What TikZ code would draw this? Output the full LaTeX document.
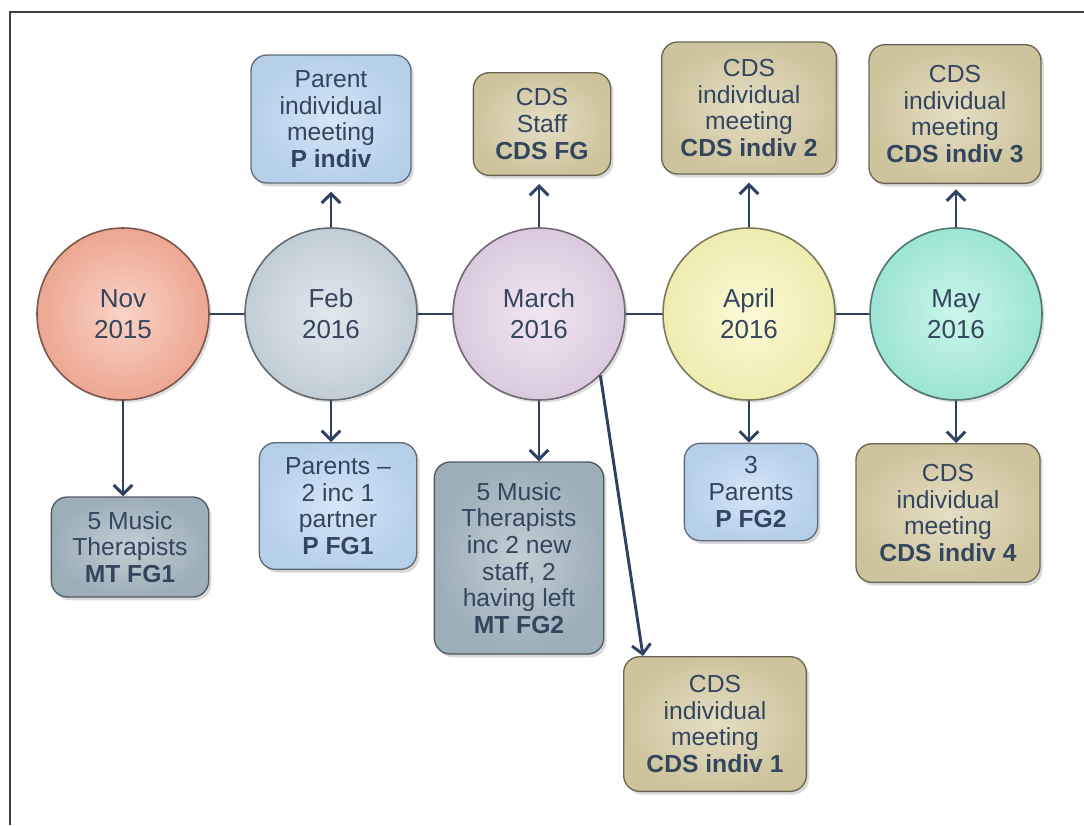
\documentclass[tikz,border=0pt]{standalone}
\usepackage{fontspec}
\setmainfont{Liberation Sans}
\usetikzlibrary{arrows.meta,shadows}

\definecolor{linecol}{HTML}{2E4162}
\definecolor{txtcol}{HTML}{34465E}
\definecolor{novcol}{HTML}{F6AE98}
\definecolor{febcol}{HTML}{C9D6DF}
\definecolor{marcol}{HTML}{E4D2E8}
\definecolor{aprcol}{HTML}{F8F6B6}
\definecolor{maycol}{HTML}{A2EEDC}
\definecolor{parcol}{HTML}{BED8F3}
\definecolor{mtcol}{HTML}{A2B5C0}
\definecolor{cdscol}{HTML}{D6CCA4}

\begin{document}
\begin{tikzpicture}[x=0.75pt,y=-0.75pt,
    month/.style={circle,draw=#1!50!black,line width=1.2pt,inner color=#1!55!white,outer color=#1!96!black,
        minimum size=129pt,inner sep=1pt,align=center,text=txtcol,font=\fontsize{19.5}{23}\selectfont,
        drop shadow={opacity=0.25,shadow xshift=2pt,shadow yshift=-2pt}},
    group/.style={rectangle,rounded corners=12pt,draw=#1!50!black,line width=1pt,inner color=#1!65!white,outer color=#1!96!black,
        inner sep=2pt,align=center,text=txtcol,font=\fontsize{18.5}{20}\selectfont,
        drop shadow={opacity=0.3,shadow xshift=2pt,shadow yshift=-2.5pt}},
    link/.style={draw=linecol,line width=2.2pt},
    meet/.style={link,-{Straight Barb[length=7pt,width=14pt,line width=2.2pt]}}]
    \useasboundingbox (0,0) rectangle (1084,825);
    % frame
    \coordinate (fr1) at (10,825);
    \coordinate (fr2) at (10,12);
    \coordinate (fr3) at (1084,12);
    \draw[black!75,line width=1.6pt] (fr1) -- (fr2) -- (fr3);

    % timeline
    \node[month=novcol] (nov) at (123,314) {Nov\\2015};
    \node[month=febcol] (feb) at (331,314) {Feb\\2016};
    \node[month=marcol] (mar) at (539,314) {March\\2016};
    \node[month=aprcol] (apr) at (749,314) {April\\2016};
    \node[month=maycol] (may) at (956,314) {May\\2016};
    \draw[link] (nov) -- (feb) (feb) -- (mar) (mar) -- (apr) (apr) -- (may);

    % groups above
    \node[group=parcol,minimum width=120pt,minimum height=96pt] (pindiv) at (331,119) {Parent\\individual\\meeting\\\textbf{P indiv}};
    \node[group=cdscol,minimum width=103pt,minimum height=77pt] (cdsfg) at (542,124) {CDS\\Staff\\\textbf{CDS FG}};
    \node[group=cdscol,minimum width=131pt,minimum height=99pt] (cdsi2) at (749,108) {CDS\\individual\\meeting\\\textbf{CDS indiv 2}};
    \node[group=cdscol,minimum width=129pt,minimum height=104pt] (cdsi3) at (955,114) {CDS\\individual\\meeting\\\textbf{CDS indiv 3}};

    % groups below
    \node[group=mtcol,minimum width=118pt,minimum height=75pt] (mtfg1) at (130,547) {5 Music\\Therapists\\\textbf{MT FG1}};
    \node[group=parcol,minimum width=118pt,minimum height=95pt] (pfg1) at (338,506) {Parents --\\2 inc 1\\partner\\\textbf{P FG1}};
    \node[group=mtcol,minimum width=127pt,minimum height=144pt] (mtfg2) at (519,558) {5 Music\\Therapists\\inc 2 new\\staff, 2\\having left\\\textbf{MT FG2}};
    \node[group=cdscol,minimum width=137pt,minimum height=101pt] (cdsi1) at (715,724) {CDS\\individual\\meeting\\\textbf{CDS indiv 1}};
    \node[group=parcol,minimum width=100pt,minimum height=73pt] (pfg2) at (751,492) {3\\Parents\\\textbf{P FG2}};
    \node[group=cdscol,minimum width=138pt,minimum height=104pt] (cdsi4) at (948,513) {CDS\\individual\\meeting\\\textbf{CDS indiv 4}};

    % arrows
    \draw[meet,shorten >=6pt] (feb.north) -- (feb.north |- pindiv.south);
    \draw[meet,shorten >=6pt] (mar.north) -- (mar.north |- cdsfg.south);
    \draw[meet,shorten >=6pt] (apr.north) -- (apr.north |- cdsi2.south);
    \draw[meet,shorten >=4pt] (may.north) -- (may.north |- cdsi3.south);
    \draw[meet] (nov.south) -- (nov.south |- mtfg1.north);
    \draw[meet] (feb.south) -- (feb.south |- pfg1.north);
    \draw[meet] (mar.south) -- (mar.south |- mtfg2.north);
    \draw[meet] (mar.-45) -- ([xshift=15pt]cdsi1.north west);
    \draw[meet] (apr.south) -- (apr.south |- pfg2.north);
    \draw[meet] (may.south) -- (may.south |- cdsi4.north);
\end{tikzpicture}
\end{document}
